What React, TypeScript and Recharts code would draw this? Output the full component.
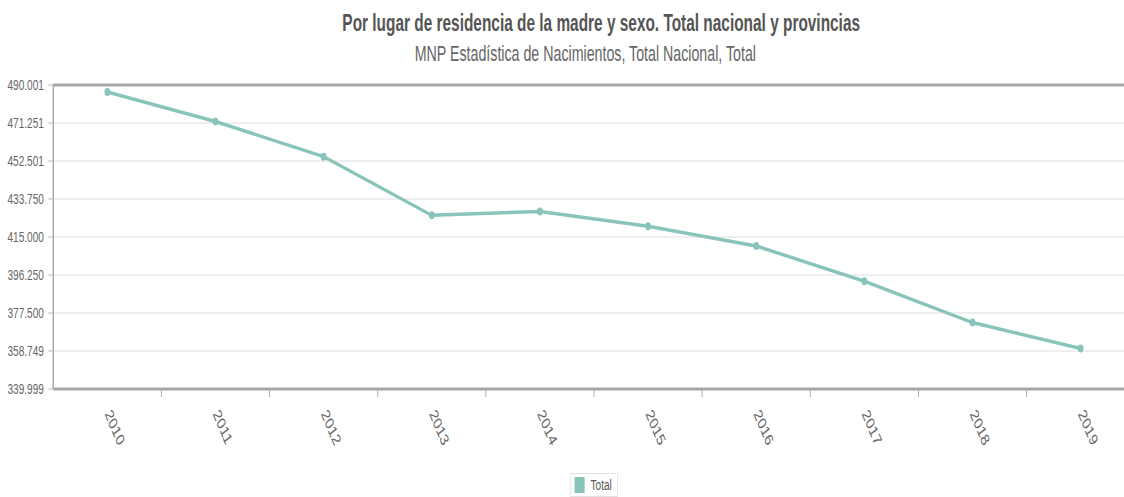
import React from 'react';
import { LineChart, Line, XAxis, YAxis, CartesianGrid, Legend, ReferenceLine } from 'recharts';

const YEARS = ['2010', '2011', '2012', '2013', '2014', '2015', '2016', '2017', '2018', '2019'];
const TOTAL = [486575, 471999, 454648, 425715, 427595, 420290, 410583, 393181, 372777, 360000];
const Y_TICKS = [339999, 358749.25, 377499.5, 396249.75, 415000, 433750.25, 452500.5, 471250.75, 490001];
const Y_TICK_LABELS = ['339.999', '358.749', '377.500', '396.250', '415.000', '433.750', '452.501', '471.251', '490.001'];
const TITLE = 'Por lugar de residencia de la madre y sexo. Total nacional y provincias';
const SUBTITLE = 'MNP Estadística de Nacimientos, Total Nacional, Total';
const SERIES_NAME = 'Total';

const data = YEARS.map((year, i) => ({ year, total: TOTAL[i] }));

const SX = 0.72;
const FONT = '"Liberation Sans", Arial, sans-serif';
const LINE_COLOR = '#89c4bb';

function XTick(props: any) {
  const { x, y, payload, width, visibleTicksCount } = props;
  const half = width && visibleTicksCount ? width / visibleTicksCount / 2 : 0;
  return (
    <g>
      {half > 0 && (
        <line x1={x + half} x2={x + half} y1={y} y2={y + 8} stroke="#b0b0b0" strokeWidth={1.4} />
      )}
      <text
        transform={`translate(${x - 4},${y + 25}) rotate(60)`}
        textAnchor="start"
        fill="#666"
        fontSize={17}
        fontFamily={FONT}
      >
        {payload.value}
      </text>
    </g>
  );
}

function LegendBox() {
  return (
    <div style={{ display: 'flex', justifyContent: 'center' }}>
      <div
        style={{
          display: 'inline-flex',
          alignItems: 'center',
          border: '1px solid #e2e2e2',
          height: 24,
          padding: '0 7px 0 5px',
          boxSizing: 'border-box',
          fontFamily: FONT,
        }}
      >
        <span style={{ display: 'inline-block', width: 14, height: 16, background: LINE_COLOR }} />
        <span style={{ marginLeft: 8, fontSize: 14, color: '#555' }}>{SERIES_NAME}</span>
      </div>
    </div>
  );
}

export default function App() {
  return (
    <div style={{ position: 'absolute', left: 0, top: 0, width: 1124, height: 497, overflow: 'hidden', background: '#fff' }}>
      <div style={{ position: 'relative', width: 1582, height: 497, transform: `scaleX(${SX})`, transformOrigin: '0 0' }}>
        <svg width={1582} height={80} style={{ position: 'absolute', left: 0, top: 0 }}>
          <text
            x={835}
            y={31}
            textAnchor="middle"
            fontSize={23}
            fontWeight="bold"
            fill="#555"
            fontFamily={FONT}
            textLength={719}
            lengthAdjust="spacingAndGlyphs"
          >
            {TITLE}
          </text>
          <text
            x={813}
            y={61.5}
            textAnchor="middle"
            fontSize={22}
            fill="#666"
            fontFamily={FONT}
            textLength={474}
            lengthAdjust="spacingAndGlyphs"
          >
            {SUBTITLE}
          </text>
        </svg>
        <div style={{ position: 'absolute', left: 0, top: 0 }}>
          <LineChart width={1582} height={497} data={data} margin={{ top: 85, right: 6, bottom: 0, left: 0 }}>
            <CartesianGrid vertical={false} stroke="#d9d9d9" />
            <XAxis
              dataKey="year"
              scale="band"
              height={84}
              tickLine={false}
              tickSize={0}
              tickMargin={0}
              axisLine={{ stroke: '#a6a6a6', strokeWidth: 3 }}
              tick={<XTick />}
              interval={0}
            />
            <YAxis
              width={74}
              domain={[Y_TICKS[0], Y_TICKS[Y_TICKS.length - 1]]}
              ticks={Y_TICKS}
              interval={0}
              allowDataOverflow
              tickFormatter={(v: number) => Y_TICK_LABELS[Y_TICKS.indexOf(v)] ?? String(v)}
              axisLine={{ stroke: '#aaaaaa', strokeWidth: 2 }}
              tickLine={{ stroke: '#aaaaaa' }}
              tickSize={7}
              tickMargin={6}
              tick={{ fill: '#666', fontSize: 14, fontFamily: FONT }}
            />
            <ReferenceLine y={Y_TICKS[Y_TICKS.length - 1]} stroke="#a6a6a6" strokeWidth={3} />
            <Legend
              verticalAlign="bottom"
              wrapperStyle={{ left: 74, width: 1502, bottom: 0 }}
              content={() => <LegendBox />}
            />
            <Line
              type="linear"
              dataKey="total"
              name={SERIES_NAME}
              stroke={LINE_COLOR}
              strokeWidth={3.5}
              dot={{ r: 4, fill: LINE_COLOR, stroke: LINE_COLOR, strokeWidth: 0 }}
              activeDot={false}
              isAnimationActive={false}
            />
          </LineChart>
        </div>
      </div>
    </div>
  );
}
